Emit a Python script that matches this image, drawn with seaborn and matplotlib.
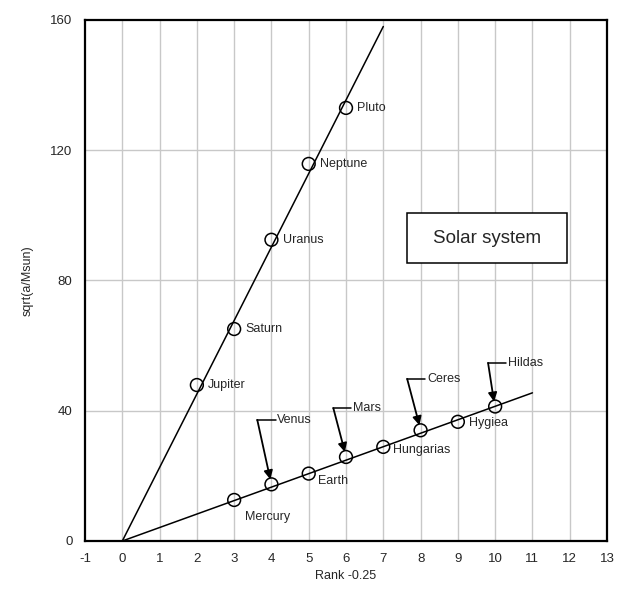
import matplotlib
matplotlib.use("Agg")
import matplotlib.pyplot as plt
from matplotlib.patches import Rectangle
import seaborn as sns
import pandas as pd

# outer planets (upper sequence)
outer_names = ["Jupiter", "Saturn", "Uranus", "Neptune", "Pluto"]
outer_rank = [2, 3, 4, 5, 6]
outer_val = [47.9, 65.1, 92.5, 115.8, 133.0]

# inner bodies (lower sequence)
inner_names = ["Mercury", "Venus", "Earth", "Mars", "Hungarias", "Ceres", "Hygiea", "Hildas"]
inner_rank = [3, 4, 5, 6, 7, 8, 9, 10]
inner_val = [12.6, 17.4, 20.7, 25.8, 28.9, 34.0, 36.6, 41.3]

# fitted lines (end points)
outer_fit_x = [0, 7]
outer_fit_y = [0, 158]
inner_fit_x = [0, 11]
inner_fit_y = [0, 45.5]

sns.set_style("white")
plt.rcParams["font.family"] = ["Liberation Sans", "DejaVu Sans"]
plt.rcParams["axes.unicode_minus"] = False

fig = plt.figure(figsize=(6.27, 5.93), dpi=100)
ax = fig.add_axes([0.1356, 0.0877, 0.8325, 0.8786])

# grid
for gx in range(0, 13):
    ax.axvline(gx, color="#c8c8c8", lw=1, zorder=0)
for gy in [40, 80, 120]:
    ax.axhline(gy, color="#c8c8c8", lw=1, zorder=0)

sns.lineplot(x=outer_fit_x, y=outer_fit_y, ax=ax, color="black", lw=1.1)
sns.lineplot(x=inner_fit_x, y=inner_fit_y, ax=ax, color="black", lw=1.1)

outer = pd.DataFrame({"rank": outer_rank, "val": outer_val})
inner = pd.DataFrame({"rank": inner_rank, "val": inner_val})
for d in (outer, inner):
    sns.scatterplot(data=d, x="rank", y="val", ax=ax, marker="o", s=85,
                    facecolor="none", edgecolor="black", linewidth=1.1, zorder=3)

fs = 9
# plain labels to the right of the points
for n, x, y in zip(outer_names, outer_rank, outer_val):
    ax.text(x + 0.3, y, n, fontsize=fs, va="center", ha="left")

ax.text(3.3, 7.5, "Mercury", fontsize=fs, va="center", ha="left")
ax.text(5.25, 18.5, "Earth", fontsize=fs, va="center", ha="left")
ax.text(7.25, 28.0, "Hungarias", fontsize=fs, va="center", ha="left")
ax.text(9.3, 36.3, "Hygiea", fontsize=fs, va="center", ha="left")

# callout labels with arrows
callouts = [
    ("Venus", 4, 17.4, 3.62, 4.16, 37.2),
    ("Mars", 6, 25.8, 5.66, 6.19, 40.8),
    ("Ceres", 8, 34.0, 7.64, 8.18, 49.8),
    ("Hildas", 10, 41.3, 9.81, 10.35, 54.7),
]
for n, px, py, ex, tx, ty in callouts:
    ax.plot([ex, tx - 0.05], [ty, ty], color="black", lw=1.1)
    ax.annotate("", xy=(px - 0.03, py + 1.5), xytext=(ex, ty),
                arrowprops=dict(arrowstyle="-|>", color="black", lw=1.3,
                                mutation_scale=13, shrinkA=0, shrinkB=0))
    ax.text(tx, ty, n, fontsize=fs, va="center", ha="left")

ax.add_patch(Rectangle((7.64, 85.4), 4.29, 15.3, fc="white", ec="black", lw=1.1, zorder=4))
ax.text(9.79, 93, "Solar system", fontsize=13.5, ha="center", va="center", zorder=5)

ax.set_xlim(-1, 13)
ax.set_ylim(0, 160)
ax.set_xticks(range(-1, 14))
ax.set_yticks([0, 40, 80, 120, 160])
ax.tick_params(length=0, labelsize=9.5, pad=9)
ax.set_xlabel("Rank -0.25", fontsize=9, labelpad=3)
ax.set_ylabel("sqrt(a/Msun)", fontsize=9, labelpad=12)
for sp in ax.spines.values():
    sp.set_color("black")
    sp.set_linewidth(1.6)

fig.savefig("out.png", dpi=100)
